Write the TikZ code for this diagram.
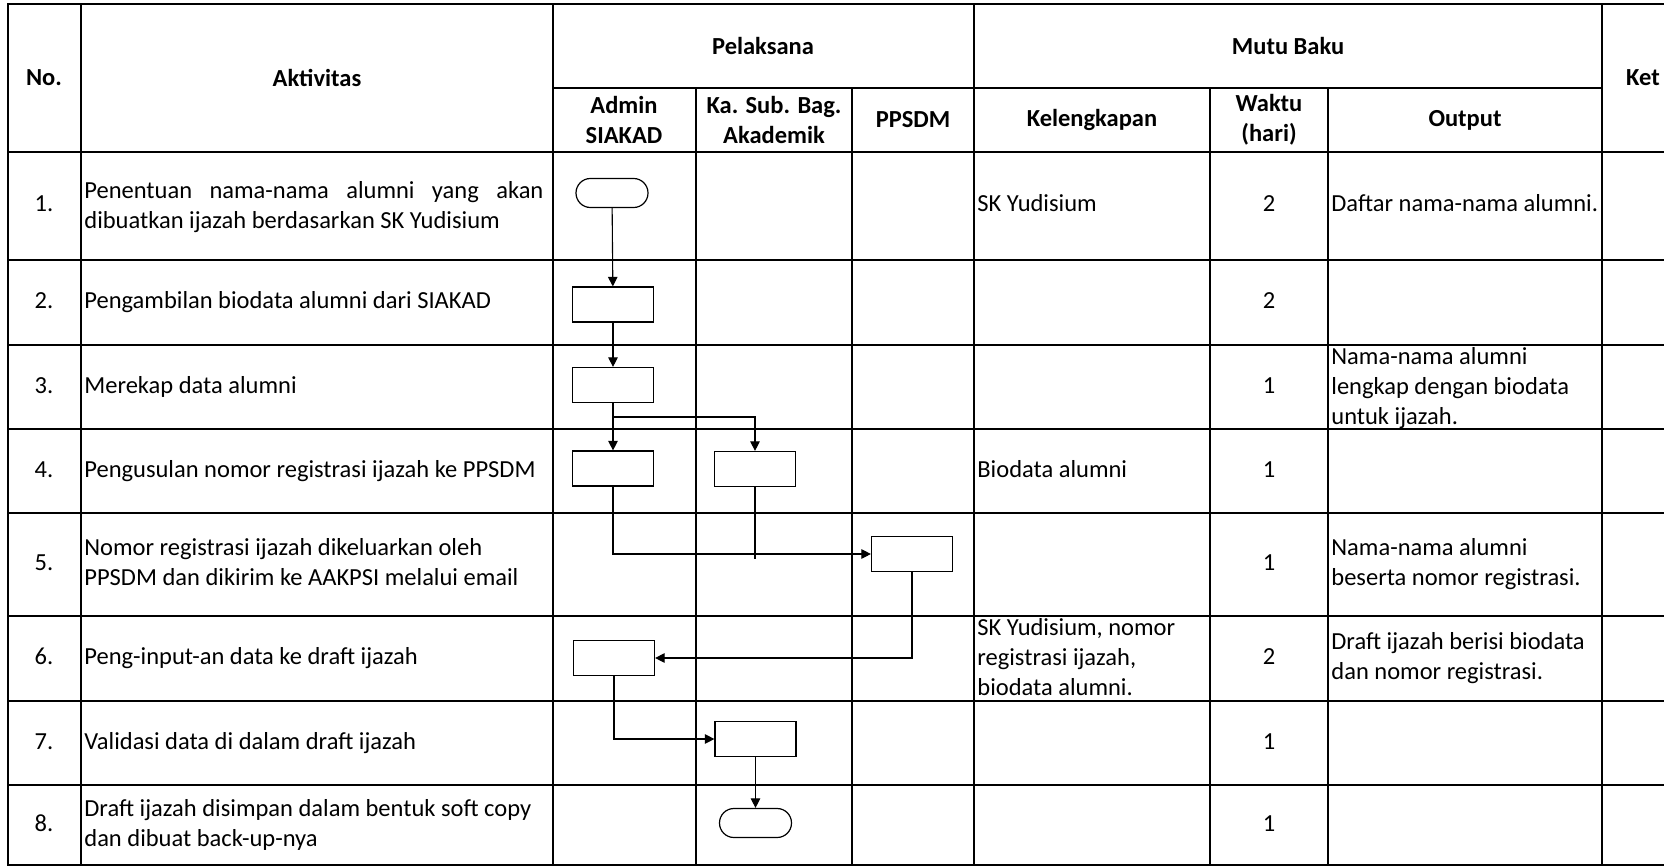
\documentclass[tikz,border=0pt]{standalone}
\usepackage{fontspec}
\setmainfont{Carlito}
\usetikzlibrary{arrows.meta}
\begin{document}
\begin{tikzpicture}[x=0.5pt,y=-0.5pt,
  grid/.style={line width=1pt, line cap=rect},
  txt/.style={font=\fontsize{12.25}{15}\selectfont, inner sep=0pt},
  hd/.style={font=\fontsize{12.25}{15}\selectfont\bfseries, inner sep=0pt, align=center},
  lt/.style={txt, anchor=west, align=left},
  ct/.style={txt, anchor=center},
  proc/.style={draw, line width=0.6pt, minimum width=40.5pt, minimum height=17.5pt, inner sep=0pt},
  term/.style={draw, line width=0.6pt, rounded corners=7.2pt, minimum width=36pt, minimum height=14.5pt, inner sep=0pt},
  flow/.style={line width=0.55pt, -{Triangle[length=4.8pt,width=4.8pt]}},
  plain/.style={line width=0.55pt}
]
\clip (0,0) rectangle (1664,866);
\fill[white] (0,0) rectangle (1664,866);

% table rules
\draw[grid] (8,4) -- (1664,4);
\draw[grid] (553,88) -- (1602,88);
\foreach \y in {152,260,345,429,513,616,701,785,865} \draw[grid] (8,\y) -- (1664,\y);
\foreach \x in {8,81,553,974,1602} \draw[grid] (\x,4) -- (\x,865);
\foreach \x in {696,852,1210,1328} \draw[grid] (\x,88) -- (\x,865);

% header
\node[hd] (hno) at (44,78) {No.};
\node[hd] (hakt) at (317,78) {Aktivitas};
\node[hd] (hpel) at (763,46) {Pelaksana};
\node[hd] (hmutu) at (1288,46) {Mutu Baku};
\node[hd] (hket) at (1643,78) {Ket};
\node[hd] (hadm) at (624,120) {Admin\\SIAKAD};
\node[hd] (hka) at (774,120) {Ka. Sub. Bag.\\Akademik};
\node[hd] (hpps) at (913,120) {PPSDM};
\node[hd] (hkel) at (1092,120) {Kelengkapan};
\node[hd] (hwkt) at (1269,120) {Waktu\\(hari)};
\node[hd] (hout) at (1465,120) {Output};

% row numbers
\foreach \n/\y in {1/206,2/302.5,3/387,4/471,5/564.5,6/658.5,7/743,8/825}
  \node[ct] (no\n) at (44,\y) {\strut\n.};

% activities
\node[lt] (a1) at (84,207) {\strut\makebox[229.5pt][s]{Penentuan nama-nama alumni yang akan}\\\strut dibuatkan ijazah berdasarkan SK Yudisium};
\node[lt] (a2) at (84,302.5) {\strut Pengambilan biodata alumni dari SIAKAD};
\node[lt] (a3) at (84,387) {\strut Merekap data alumni};
\node[lt] (a4) at (84,471) {\strut Pengusulan nomor registrasi ijazah ke PPSDM};
\node[lt] (a5) at (84,564.5) {\strut Nomor registrasi ijazah dikeluarkan oleh\\\strut PPSDM dan dikirim ke AAKPSI melalui email};
\node[lt] (a6) at (84,658.5) {\strut Peng-input-an data ke draft ijazah};
\node[lt] (a7) at (84,743) {\strut Validasi data di dalam draft ijazah};
\node[lt] (a8) at (84,825) {\strut Draft ijazah disimpan dalam bentuk soft copy\\\strut dan dibuat back-up-nya};

% kelengkapan
\node[lt] (k1) at (977,206) {\strut SK Yudisium};
\node[lt] (k4) at (977,471) {\strut Biodata alumni};
\begin{scope}
  \clip (974,616) rectangle (1210,700);
  \node[lt] (k6) at (977,659) {\strut SK Yudisium, nomor\\\strut registrasi ijazah,\\\strut biodata alumni.};
\end{scope}

% waktu
\foreach \n/\v/\y in {1/2/206,2/2/302.5,3/1/387,4/1/471,5/1/564.5,6/2/658.5,7/1/743,8/1/825}
  \node[ct] (w\n) at (1269,\y) {\strut\v};

% output
\node[lt] (o1) at (1331,206) {\strut Daftar nama-nama alumni.};
\begin{scope}
  \clip (1328,345) rectangle (1602,428);
  \node[lt] (o3) at (1331,388) {\strut Nama-nama alumni\\\strut lengkap dengan biodata\\\strut untuk ijazah.};
\end{scope}
\node[lt] (o5) at (1331,564.5) {\strut Nama-nama alumni\\\strut beserta nomor registrasi.};
\node[lt] (o6) at (1331,658.5) {\strut Draft ijazah berisi biodata\\\strut dan nomor registrasi.};

% flow symbols
\node[term] (t1) at (612,193) {};
\node[proc] (b2) at (613,304.5) {};
\node[proc] (b3) at (613,385) {};
\node[proc] (b4a) at (613,468.5) {};
\node[proc] (b4b) at (755,469) {};
\node[proc] (b5) at (912,554) {};
\node[proc] (b6) at (614,658) {};
\node[proc] (b7) at (755.5,739) {};
\node[term] (t8) at (755.5,823) {};

\coordinate (split) at (613,417);
\coordinate (tail) at (755,559);

% connectors
\draw[flow] (t1) -- (b2);
\draw[flow] (b2) -- (b3);
\draw[flow] (b3) -- (b4a);
\draw[flow] (split) -| (b4b);
\draw[flow] (b4a) |- (b5);
\draw[plain] (b4b) -- (tail);
\draw[flow] (b5) |- (b6);
\draw[flow] (b6) |- (b7);
\draw[flow] (b7) -- (t8);
\end{tikzpicture}
\end{document}
